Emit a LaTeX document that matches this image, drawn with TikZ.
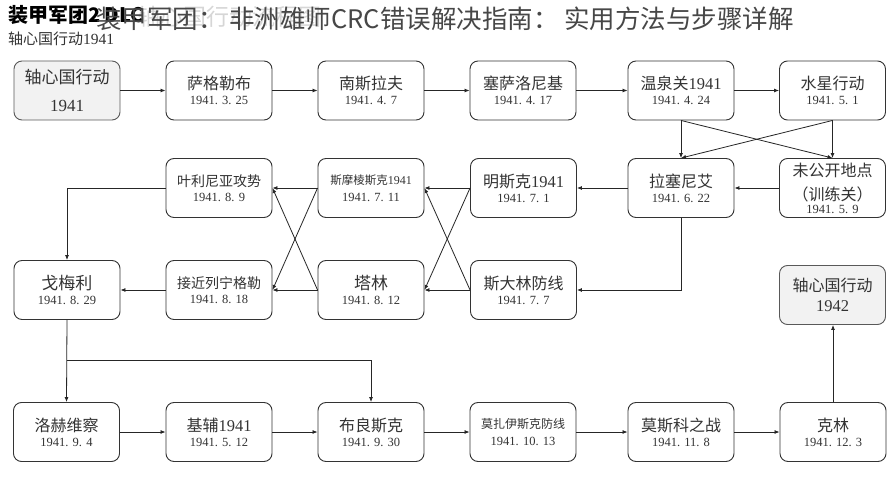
\documentclass[tikz,border=0pt]{standalone}
\usepackage{fontspec}
\setmainfont{Liberation Serif}
\newfontfamily\cjk{Noto Sans CJK SC}
\usetikzlibrary{arrows.meta}
\newcommand\bxt[2][16]{{\cjk\fontsize{#1}{12}\selectfont #2}}
\newcommand\bxd[2][12.5]{{\fontsize{#1}{12}\selectfont #2}}
\begin{document}
\begin{tikzpicture}[x=1pt,y=-1pt,
  box/.style={draw=black!80, line width=0.9pt, rounded corners=8pt,
    minimum width=106pt, minimum height=59pt, fill=white, align=center,
    inner sep=0pt, font=\fontsize{12}{12}\selectfont, text=black!80},
  axisbox/.style={box, fill=gray!10, draw=black!65},
  conn/.style={draw=black!85, line width=0.8pt, -{Latex[length=5pt,width=4pt]}},
  line/.style={draw=black!85, line width=0.8pt}]
\useasboundingbox (0,0) rectangle (889,500);
\fill[white] (0,0) rectangle (889,500);

% header texts
\node[anchor=west, inner sep=0pt, text=black!16, font=\cjk\fontsize{23}{23}\selectfont] (faint) at (137,17) {轴心国行动流程图};
\node[anchor=west, inner sep=0pt, text=black, font=\cjk\bfseries\fontsize{20}{20}\selectfont] (tag) at (8,15) {装甲军团2 DLC};
\node[anchor=west, inner sep=0pt, text=black!72, font=\cjk\fontsize{25.5}{25}\selectfont] (title) at (96,19) {装甲军团： 非洲雄师CRC错误解决指南： 实用方法与步骤详解};
\node[anchor=west, inner sep=0pt, text=black!80] (sub) at (8,39) {\bxt[15]{轴心国行动}\bxd[15.5]{1941}};

% row 1
\node[axisbox] (a1) at (67,90.5) {\bxt[17]{轴心国行动}\\[14pt]\bxd[17]{1941}};
\node[box] (a2) at (219,90.5) {\bxt{萨格勒布}\\[3pt]\bxd{1941. 3. 25}};
\node[box] (a3) at (371,90.5) {\bxt{南斯拉夫}\\[3pt]\bxd{1941. 4. 7}};
\node[box] (a4) at (523,90.5) {\bxt{塞萨洛尼基}\\[3pt]\bxd{1941. 4. 17}};
\node[box] (a5) at (681,90.5) {\bxt{温泉关}\bxd[16.5]{1941}\\[3pt]\bxd{1941. 4. 24}};
\node[box] (a6) at (832.5,90.5) {\bxt{水星行动}\\[3pt]\bxd{1941. 5. 1}};

% row 2
\node[box] (b6) at (832.5,188) {\bxt{未公开地点}\\[8pt]\bxt{（训练关）}\\[1pt]\bxd{1941. 5. 9}};
\node[box] (b5) at (681,188) {\bxt{拉塞尼艾}\\[3pt]\bxd{1941. 6. 22}};
\node[box] (b4) at (523.5,188) {\bxt{明斯克}\bxd[16.5]{1941}\\[3pt]\bxd{1941. 7. 1}};
\node[box] (b3) at (371,188) {\bxt[11.5]{斯摩棱斯克}\bxd[12]{1941}\\[5pt]\bxd{1941. 7. 11}};
\node[box] (b2) at (219,188) {\bxt[14]{叶利尼亚攻势}\\[3.5pt]\bxd{1941. 8. 9}};

% row 3
\node[box] (c1) at (67,290) {\bxt[17]{戈梅利}\\[3pt]\bxd{1941. 8. 29}};
\node[box] (c2) at (219,290) {\bxt[14]{接近列宁格勒}\\[3.5pt]\bxd{1941. 8. 18}};
\node[box] (c3) at (371,290) {\bxt[17]{塔林}\\[3pt]\bxd{1941. 8. 12}};
\node[box] (c4) at (523.5,290) {\bxt{斯大林防线}\\[3pt]\bxd{1941. 7. 7}};
\node[axisbox] (c6) at (832.5,295) {\bxt{轴心国行动}\\[7pt]\bxd[16.5]{1942}};

% row 4
\node[box] (d1) at (66.5,432) {\bxt{洛赫维察}\\[3pt]\bxd{1941. 9. 4}};
\node[box] (d2) at (219,432) {\bxt{基辅}\bxd[16.5]{1941}\\[3pt]\bxd{1941. 5. 12}};
\node[box] (d3) at (371,432) {\bxt{布良斯克}\\[3pt]\bxd{1941. 9. 30}};
\node[box] (d4) at (523,432) {\bxt[12]{莫扎伊斯克防线}\\[5pt]\bxd{1941. 10. 13}};
\node[box] (d5) at (681,432) {\bxt{莫斯科之战}\\[3pt]\bxd{1941. 11. 8}};
\node[box] (d6) at (833,432) {\bxt{克林}\\[3pt]\bxd{1941. 12. 3}};

% connectors row 1
\draw[conn] (a1) -- (a2);
\draw[conn] (a2) -- (a3);
\draw[conn] (a3) -- (a4);
\draw[conn] (a4) -- (a5);
\draw[conn] (a5) -- (a6);
\draw[conn] (a5.south) -- (b5.north);
\draw[conn] (a6.south) -- (b6.north);
\draw[conn] (a5.south) -- (b6.north);
\draw[conn] (a6.south) -- (b5.north);

% row 2 / 3
\draw[conn] (b6) -- (b5);
\draw[conn] (b5) -- (b4);
\draw[conn] (b4) -- (b3);
\draw[conn] (b3) -- (b2);
\draw[conn] (b5.south) |- (c4.east);
\draw[conn] (c4) -- (c3);
\draw[conn] (b4.west) -- (c3.east);
\draw[conn] (c4.west) -- (b3.east);
\draw[conn] (c3) -- (c2);
\draw[conn] (b3.west) -- (c2.east);
\draw[conn] (c3.west) -- (b2.east);
\draw[conn] (b2.west) -| (c1.north);
\draw[conn] (c2) -- (c1);

% down to row 4
\coordinate (j) at (67,360);
\draw[conn] (c1.south) -- (d1.north);
\draw[conn] (j) -| (d3.north);
\draw[conn] (d1) -- (d2);
\draw[conn] (d2) -- (d3);
\draw[conn] (d3) -- (d4);
\draw[conn] (d4) -- (d5);
\draw[conn] (d5) -- (d6);
\draw[conn] (d6.north) -- (d6.north |- c6.south);
\end{tikzpicture}
\end{document}
